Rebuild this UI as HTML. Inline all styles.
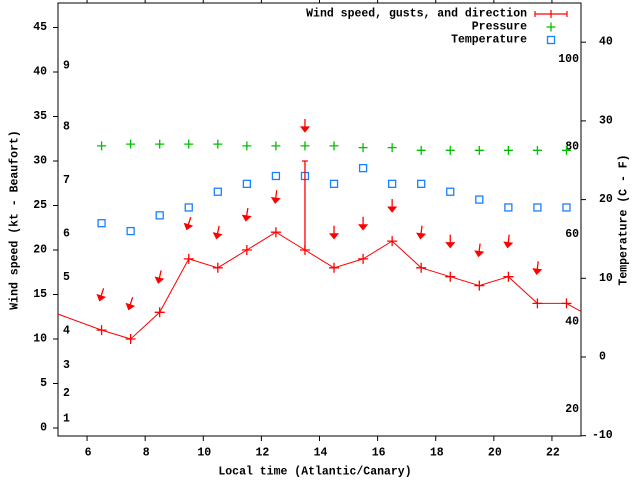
<!DOCTYPE html>
<html><head><meta charset="utf-8">
<style>
html,body{margin:0;padding:0;background:#fff;}
svg{display:block;font-family:"Liberation Mono",monospace;font-weight:bold;font-size:11.5px;}
</style></head>
<body>
<svg id="chart" width="640" height="480" viewBox="0 0 640 480" xmlns="http://www.w3.org/2000/svg">
<defs><clipPath id="plotclip"><rect x="58" y="3" width="523" height="433"/></clipPath></defs>
</svg>
<script>
// ---- data ----
const hours = [4.5,6.5,7.5,8.5,9.5,10.5,11.5,12.5,13.5,14.5,15.5,16.5,17.5,18.5,19.5,20.5,21.5,22.5,23.5];
const windSpeed = [13.4,11,10,13,19,18,20,22,20,18,19,21,18,17,16,17,14,14,12.2];
const gustHours = [13.5];
const gustValues = [30];
const gustBase = [20];
const arrowHours = [6.5,7.5,8.5,9.5,10.5,11.5,12.5,13.5,14.5,15.5,16.5,17.5,18.5,19.5,20.5,21.5];
const arrowSpeed = [11,10,13,19,18,20,22,30,18,19,21,18,17,16,17,14];
const windDir = [18,18,13,18,12,9,7,0,0,0,0,7,0,7,7,7];
const pHours = [6.5,7.5,8.5,9.5,10.5,11.5,12.5,13.5,14.5,15.5,16.5,17.5,18.5,19.5,20.5,21.5,22.5];
const pressure = [31.7,31.9,31.9,31.9,31.9,31.7,31.7,31.7,31.7,31.5,31.5,31.2,31.2,31.2,31.2,31.2,31.2];
const temperature = [17,16,18,19,21,22,23,23,22,24,22,22,21,20,19,19,19];
const xTicks = [6,8,10,12,14,16,18,20,22];
const yTicks = [0,5,10,15,20,25,30,35,40,45];
const y2Ticks = [-10,0,10,20,30,40];
const fLabels = [20,40,60,80,100];
const beaufortLabels = ["1","2","3","4","5","6","7","8","9"];
const beaufortPos = [1.0,3.9,7.0,10.9,16.9,21.8,27.8,33.8,40.7];

// ---- axes ----
const L=58,R=581,T=3,B=436;
const xs = h => L + (h-5)*(R-L)/18;
const ys = v => 428 - v*8.9;
const y2s = c => 357 - c*7.87;
const svg = document.getElementById('chart');
const NS='http://www.w3.org/2000/svg';
function mk(tag, attrs, parent){const e=document.createElementNS(NS,tag);for(const k in attrs)e.setAttribute(k,attrs[k]);(parent||svg).appendChild(e);return e;}
function txt(x,y,s,anchor,parent){const t=mk('text',{x:x,y:y,'text-anchor':anchor||'start','dominant-baseline':'central'},parent);t.textContent=s;return t;}

const border = mk('rect',{x:L,y:T,width:R-L,height:B-T,fill:'none',stroke:'#000','stroke-width':1});



const xAxis = mk('g',{});


xTicks.forEach(h=>{
  const x=xs(h);
  mk('line',{x1:x,y1:B,x2:x,y2:B+5,stroke:'#000'},xAxis);
  mk('line',{x1:x,y1:T,x2:x,y2:T-5,stroke:'#000'},xAxis);
  const t=txt(x+1,453,String(h),'middle',xAxis);
  
  
});
const yAxis = mk('g',{});


yTicks.forEach(v=>{
  const y=ys(v);
  mk('line',{x1:L-5,y1:y,x2:L,y2:y,stroke:'#000'},yAxis);
  const t=txt(47,y,String(v),'end',yAxis);
  
  
});
const y2Axis = mk('g',{});


y2Ticks.forEach(c=>{
  const y=y2s(c);
  mk('line',{x1:R,y1:y,x2:R+5,y2:y,stroke:'#000'},y2Axis);
  const t=txt(c<0?592:599,y,String(c),'start',y2Axis);
  
  
});
fLabels.forEach(f=>{
  const t=txt(579,y2s((f-32)*5/9),String(f),'end');
  
  
});
beaufortLabels.forEach((s,i)=>{
  const t=txt(63,ys(beaufortPos[i]),s,'start');
  
  
});

let t=txt(315,472,'Local time (Atlantic/Canary)','middle');


t=mk('text',{x:0,y:0,'text-anchor':'middle','dominant-baseline':'central',transform:'translate(15,220) rotate(-90)'});
t.textContent='Wind speed (kt - Beaufort)';


t=mk('text',{x:0,y:0,'text-anchor':'middle','dominant-baseline':'central',transform:'translate(624,220) rotate(-90)'});
t.textContent='Temperature (C - F)';



// ---- series ----
const plot = mk('g',{'clip-path':'url(#plotclip)'});


const RED='#ff0000', GREEN='#00c000', BLUE='#1a80ff';

const pG = mk('g',{},plot);


pHours.forEach((h,i)=>{
  const x=xs(h),y=ys(pressure[i]);
  const p=mk('path',{d:`M${x-4.5},${y}H${x+4.5}M${x},${y-4.5}V${y+4.5}`,stroke:GREEN,'stroke-width':1.3},pG);
  
  
});
const tG = mk('g',{},plot);


pHours.forEach((h,i)=>{
  const x=xs(h),y=y2s(temperature[i]);
  const r=mk('rect',{x:x-3.5,y:y-3.5,width:7,height:7,fill:'none',stroke:BLUE,'stroke-width':1.3},tG);
  
  
});

const wG = mk('g',{},plot);


const line=mk('polyline',{points:hours.map((h,i)=>xs(h)+','+ys(windSpeed[i])).join(' '),fill:'none',stroke:RED,'stroke-width':1},wG);


hours.forEach((h,i)=>{
  const x=xs(h),y=ys(windSpeed[i]);
  const p=mk('path',{d:`M${x-5},${y}H${x+5}M${x},${y-5}V${y+5}`,stroke:RED,'stroke-width':1.3},wG);
  
  
});
gustHours.forEach((h,i)=>{
  const x=xs(h),y1=ys(gustBase[i]),y2=ys(gustValues[i]);
  const p=mk('path',{d:`M${x},${y1}V${y2}M${x-3},${y2}H${x+3}`,stroke:RED,'stroke-width':1.3},wG);
  
  
});
const aG = mk('g',{},plot);


arrowHours.forEach((h,i)=>{
  const cx=xs(h),cy=ys(arrowSpeed[i]+4);
  const a=windDir[i]*Math.PI/180, len=13;
  const ux=-Math.sin(a), uy=Math.cos(a); // direction toward tip
  const tx=cx+ux*len/2, ty=cy+uy*len/2, sx=cx-ux*len/2, sy=cy-uy*len/2;
  const bx=tx-ux*5, by=ty-uy*5, px=-uy, py=ux;
  const g=mk('g',{},aG);
  
  
  mk('line',{x1:sx,y1:sy,x2:bx,y2:by,stroke:RED,'stroke-width':1.3},g);
  mk('polygon',{points:`${tx},${ty} ${bx+px*4},${by+py*4} ${bx-px*4},${by-py*4}`,fill:RED,stroke:RED,'stroke-width':1},g);
});

// ---- legend ----
const leg = mk('g',{});


const le1=mk('g',{},leg);


txt(527,14,'Wind speed, gusts, and direction','end',le1);
mk('path',{d:'M535,14H567M535,11V17M567,11V17M551,10V18',stroke:RED,'stroke-width':1.2,fill:'none'},le1);
const le2=mk('g',{},leg);


txt(527,27,'Pressure','end',le2);
mk('path',{d:'M546.5,27H555.5M551,22.5V31.5',stroke:GREEN,'stroke-width':1.3},le2);
const le3=mk('g',{},leg);


txt(527,40,'Temperature','end',le3);
mk('rect',{x:547.5,y:36.5,width:7,height:7,fill:'none',stroke:BLUE,'stroke-width':1.3},le3);
</script>
</body></html>
